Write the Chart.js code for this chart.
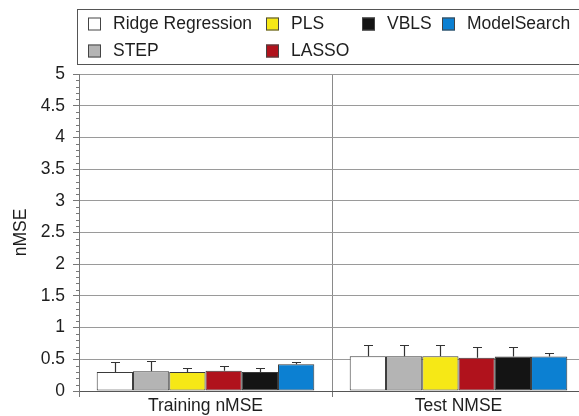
<!DOCTYPE html>
<html>
<head>
<meta charset="utf-8">
<script src="https://cdn.jsdelivr.net/npm/chart.js@4/dist/chart.umd.min.js"></script>
<style>
  html, body { margin: 0; padding: 0; overflow: hidden; background: #ffffff; }
  #wrap { width: 579px; height: 416px; overflow: hidden; }
  canvas { display: block; }
</style>
</head>
<body>
<div id="wrap"><canvas id="c" width="600" height="416"></canvas></div>
<script>
// Categories on the x axis
const categories = ['Training nMSE', 'Test NMSE'];

// Methods compared (one bar series each)
const methods = ['Ridge Regression', 'STEP', 'PLS', 'LASSO', 'VBLS', 'ModelSearch'];

// Mean error per method: [training, test]
const ridgeMean = [0.30, 0.55];
const stepMean  = [0.31, 0.55];
const plsMean   = [0.30, 0.55];
const lassoMean = [0.32, 0.525];
const vblsMean  = [0.30, 0.545];
const msMean    = [0.42, 0.545];

// Upper error (standard deviation) per method: [training, test]
const ridgeErr = [0.16, 0.18];
const stepErr  = [0.16, 0.18];
const plsErr   = [0.07, 0.17];
const lassoErr = [0.07, 0.17];
const vblsErr  = [0.07, 0.155];
const msErr    = [0.03, 0.05];

// Y axis range and ticks
const yMin = 0;
const yMax = 5;
const yStep = 0.5;
const yMinorStep = 0.1;

const means = [ridgeMean, stepMean, plsMean, lassoMean, vblsMean, msMean];
const errs  = [ridgeErr, stepErr, plsErr, lassoErr, vblsErr, msErr];
const colors = ['#ffffff', '#b4b4b4', '#f6e816', '#b0121c', '#141414', '#0c80d2'];

const FONT = '"Liberation Sans", Arial, Helvetica, sans-serif';
const FS = 17.5;
const TEXT = '#1e1e1e';

// Upper-only error whiskers with caps
const errorBars = {
  id: 'errorBars',
  afterDatasetsDraw(chart) {
    const ctx = chart.ctx;
    const y = chart.scales.y;
    ctx.save();
    ctx.strokeStyle = '#333333';
    ctx.lineWidth = 1.2;
    chart.data.datasets.forEach((ds, di) => {
      const meta = chart.getDatasetMeta(di);
      meta.data.forEach((bar, i) => {
        const top = Math.round(y.getPixelForValue(ds.data[i] + ds.errors[i])) + 0.5;
        const x = Math.round(bar.x) + 0.5;
        ctx.beginPath();
        ctx.moveTo(x, bar.y);
        ctx.lineTo(x, top);
        ctx.moveTo(x - 4.5, top);
        ctx.lineTo(x + 4.5, top);
        ctx.stroke();
      });
    });
    ctx.restore();
  }
};

// Small minor tick marks on the value axis
const minorTicks = {
  id: 'minorTicks',
  afterDraw(chart) {
    const ctx = chart.ctx;
    const y = chart.scales.y;
    const x0 = chart.chartArea.left;
    ctx.save();
    ctx.strokeStyle = '#777777';
    ctx.lineWidth = 1;
    const n = Math.round((yMax - yMin) / yMinorStep);
    const per = Math.round(yStep / yMinorStep);
    for (let i = 0; i <= n; i++) {
      if (i % per === 0) continue;
      const py = Math.round(y.getPixelForValue(yMin + i * yMinorStep)) + 0.5;
      ctx.beginPath();
      ctx.moveTo(x0 - 3, py);
      ctx.lineTo(x0, py);
      ctx.stroke();
    }
    ctx.restore();
  }
};

// Boxed legend above the plot (runs on past the right edge)
const boxLegend = {
  id: 'boxLegend',
  afterDraw(chart, args, opts) {
    const ctx = chart.ctx;
    ctx.save();
    ctx.fillStyle = '#ffffff';
    ctx.strokeStyle = '#555555';
    ctx.lineWidth = 1;
    ctx.fillRect(opts.left, opts.top, opts.width, opts.height);
    ctx.strokeRect(opts.left + 0.5, opts.top + 0.5, opts.width, opts.height);
    ctx.font = FS + 'px ' + FONT;
    ctx.textBaseline = 'middle';
    ctx.textAlign = 'left';
    chart.data.datasets.forEach((ds, i) => {
      const slot = opts.slots[i];
      const sx = opts.cols[slot[0]];
      const cy = opts.rows[slot[1]];
      const b = opts.box;
      ctx.fillStyle = ds.backgroundColor;
      ctx.fillRect(sx, cy - b / 2, b, b);
      ctx.strokeStyle = '#444444';
      ctx.strokeRect(sx + 0.5, cy - b / 2 + 0.5, b - 1, b - 1);
      ctx.fillStyle = TEXT;
      ctx.fillText(ds.label, sx + opts.gap, cy);
    });
    ctx.restore();
  }
};

new Chart(document.getElementById('c'), {
  type: 'bar',
  data: {
    labels: categories,
    datasets: methods.map((m, i) => ({
      label: m,
      data: means[i],
      errors: errs[i],
      backgroundColor: colors[i],
      borderColor: '#3a3a3a',
      borderWidth: 1,
      borderSkipped: false,
      categoryPercentage: 0.86,
      barPercentage: 1.0
    }))
  },
  options: {
    responsive: false,
    animation: false,
    layout: { padding: { top: 74, right: 15, bottom: 0, left: 0 } },
    plugins: {
      legend: { display: false },
      tooltip: { enabled: false },
      boxLegend: {
        left: 77, top: 9, width: 560, height: 55,
        cols: [88, 266, 362, 442],
        rows: [24, 51],
        slots: [[0, 0], [0, 1], [1, 0], [1, 1], [2, 0], [3, 0]],
        box: 13,
        gap: 25
      }
    },
    scales: {
      x: {
        offset: true,
        grid: {
          offset: true,
          display: true,
          color: '#8a8a8a',
          lineWidth: 1,
          drawTicks: true,
          tickLength: 6,
          tickColor: '#777777'
        },
        border: { display: true, color: '#555555', width: 1 },
        ticks: {
          color: TEXT,
          font: { family: FONT, size: FS, lineHeight: 1 },
          padding: 0,
          maxRotation: 0
        },
        afterFit(s) { s.height = 25; }
      },
      y: {
        min: yMin,
        max: yMax,
        grid: {
          color: '#9a9a9a',
          lineWidth: 1,
          drawTicks: true,
          tickLength: 6,
          tickColor: '#777777'
        },
        border: { display: true, color: '#777777', width: 1 },
        ticks: {
          stepSize: yStep,
          color: TEXT,
          font: { family: FONT, size: FS },
          padding: 8,
          callback: (v) => String(+Number(v).toFixed(1))
        },
        title: {
          display: true,
          text: 'nMSE',
          color: TEXT,
          font: { family: FONT, size: FS },
          padding: { top: 11, bottom: 0 }
        },
        afterFit(s) { s.width = 79; }
      }
    }
  },
  plugins: [errorBars, minorTicks, boxLegend]
});
</script>
</body>
</html>
